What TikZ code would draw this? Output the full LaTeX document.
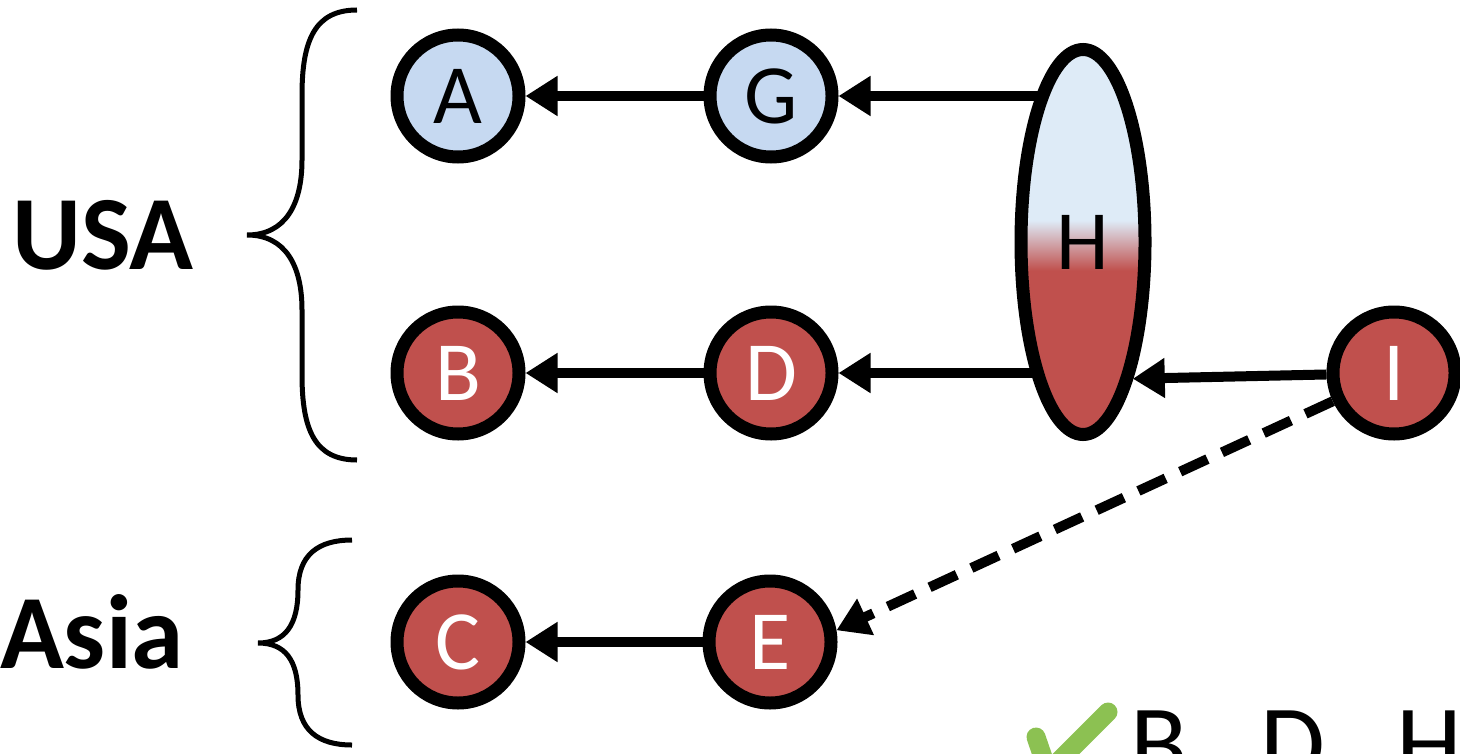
\documentclass[tikz,border=0pt]{standalone}
\usepackage{fontspec}
\setmainfont{Carlito}
\usetikzlibrary{arrows.meta,shapes.geometric,backgrounds}
\definecolor{nodeblue}{RGB}{198,217,241}
\definecolor{nodered}{RGB}{192,80,77}
\definecolor{hblue}{RGB}{222,235,247}
\definecolor{tickgreen}{RGB}{140,193,82}
\pgfdeclareverticalshading{hsplit}{100bp}{color(0bp)=(nodered); color(46.3bp)=(nodered); color(52.8bp)=(hblue); color(100bp)=(hblue)}
\begin{document}
\begin{tikzpicture}[x=0.1mm,y=-0.1mm,
    every edge/.style={draw,line width=1mm,-{Triangle[length=3.2mm,width=3.8mm]}},
    brace/.style={line width=0.5mm}]
    \useasboundingbox (0,0) rectangle (1460,753);
    \begin{scope}[every node/.style={circle,draw,line width=1.3mm,minimum size=12.2mm,inner sep=0pt,font=\fontsize{24pt}{28pt}\selectfont}]
        \node[fill=nodeblue] (A) at (458,96) {A};
        \node[fill=nodeblue] (G) at (771,96) {G};
        \node[fill=nodered,text=white] (B) at (458,373) {B};
        \node[fill=nodered,text=white] (D) at (771,373) {D};
        \node[fill=nodered,text=white] (C) at (458,642) {C};
        \node[fill=nodered,text=white] (E) at (770,642) {E};
        \node[fill=nodered,text=white] (I) at (1394,373) {I};
    \end{scope}
    \node[ellipse,draw,line width=1.3mm,minimum width=12.4mm,minimum height=38.5mm,inner sep=0pt,
        shading=hsplit,font=\fontsize{24pt}{28pt}\selectfont] (H) at (1083,242) {H};
    \begin{scope}[on background layer]
        \path
            (G) edge (A)
            (H.center |- G) edge (G)
            (D) edge (B)
            (H.center |- D) edge (D)
            (E) edge (C)
            (I) edge (H.-70)
            (I) edge [dash pattern=on 3mm off 1.6mm] (E.10);
    \end{scope}
    % regions
    \node[font=\bfseries\fontsize{30pt}{36pt}\selectfont] (usa) at (103,235) {USA};
    \node[font=\bfseries\fontsize{30pt}{36pt}\selectfont] (asia) at (92,632) {Asia};
    \draw[brace] (357,10) .. controls (315,10) and (302,40) .. (302,95) -- (302,160)
        .. controls (302,205) and (285,235) .. (247,235)
        .. controls (285,235) and (302,265) .. (302,310) -- (302,375)
        .. controls (302,430) and (315,460) .. (357,460);
    \draw[brace] (352,540) .. controls (318,540) and (298,555) .. (298,590)
        .. controls (298,625) and (285,643) .. (258,643)
        .. controls (285,643) and (298,660) .. (298,695)
        .. controls (298,730) and (318,745) .. (352,745);
    % result
    \draw[tickgreen,line width=1.9mm,line cap=round,line join=round] (1036,737) -- (1048,772) -- (1108,712);
    \node[anchor=base west,inner sep=0pt,font=\fontsize{30pt}{36pt}\selectfont] (res) at (1130,778) {B,\hspace{0.45em}D,\hspace{0.45em}H};
\end{tikzpicture}
\end{document}
